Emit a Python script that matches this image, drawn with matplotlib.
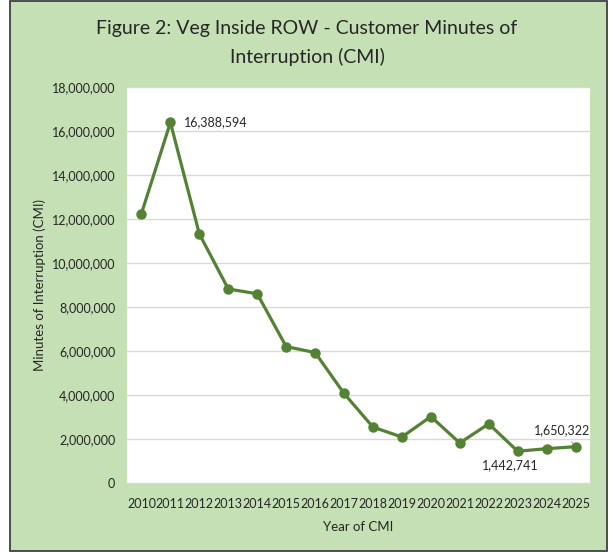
import matplotlib
matplotlib.use("Agg")
import matplotlib.pyplot as plt
from matplotlib.patches import Rectangle
from matplotlib.ticker import FuncFormatter, MultipleLocator

years = [str(y) for y in range(2010, 2026)]
cmi = [12250000, 16388594, 11320000, 8820000, 8600000, 6200000, 5930000, 4070000,
       2540000, 2090000, 3020000, 1820000, 2690000, 1442741, 1560000, 1650322]

title = "Figure 2: Veg Inside ROW - Customer Minutes of\nInterruption (CMI)"
xlabel = "Year of CMI"
ylabel = "Minutes of Interruption (CMI)"

green_bg = "#C5E0B4"
line_col = "#548235"
text_col = "#262626"
font = ["Lato", "DejaVu Sans"]

W, H = 610, 552
fig = plt.figure(figsize=(W / 100, H / 100), dpi=100, facecolor="white")

# green frame
fig.patches.append(Rectangle((10 / W, 1 - 551 / H), 597 / W, 550 / H, transform=fig.transFigure,
                             facecolor=green_bg, edgecolor="#404040", linewidth=1.3, zorder=-5))

L, R, T, B = 127, 590, 87, 483
ax = fig.add_axes([L / W, 1 - B / H, (R - L) / W, (B - T) / H])
ax.set_zorder(2)
ax.set_facecolor("white")

x = list(range(len(years)))
ax.plot(x, cmi, color=line_col, linewidth=2.3, marker="o", markersize=6.5, zorder=3)

ax.set_xlim(-0.5, len(years) - 0.5)
ax.set_ylim(0, 18000000)
ax.yaxis.set_major_locator(MultipleLocator(2000000))
ax.yaxis.set_major_formatter(FuncFormatter(lambda v, p: f"{int(v):,}"))
ax.set_xticks(x)
ax.set_xticklabels(years)
ax.grid(axis="y", color="#D9D9D9", linewidth=1)
ax.set_axisbelow(True)
for s in ["top", "right", "left"]:
    ax.spines[s].set_visible(False)
ax.spines["bottom"].set_color("#D9D9D9")
ax.tick_params(axis="both", length=0, labelsize=9, labelcolor=text_col)
ax.tick_params(axis="x", pad=11)
ax.tick_params(axis="y", pad=8.5)
for lab in ax.get_xticklabels() + ax.get_yticklabels():
    lab.set_family(font)

ax.set_xlabel(xlabel, fontsize=9.5, color=text_col, family=font, labelpad=8)
ax.set_ylabel(ylabel, fontsize=9.5, color=text_col, family=font, labelpad=4)

fig.text(307 / W, 1 - 43 / H, title, ha="center", va="center", fontsize=14,
         color=text_col, family=font, linespacing=1.75)

# data labels
ax.annotate(f"{cmi[1]:,}", (x[1], cmi[1]), xytext=(10, 0), textcoords="offset points",
            ha="left", va="center", fontsize=9, color=text_col, family=font)
ax.annotate(f"{cmi[13]:,}", (x[13], cmi[13]), xytext=(-5, -10), textcoords="offset points",
            ha="center", va="center", fontsize=9, color=text_col, family=font)
ax.annotate(f"{cmi[15]:,}", (x[15], cmi[15]), xytext=(-10, 12), textcoords="offset points",
            ha="center", va="center", fontsize=9, color=text_col, family=font,
            arrowprops=dict(arrowstyle="-", color="#A6A6A6", lw=0.8, shrinkA=3, shrinkB=3))

fig.savefig("out.png", dpi=100, facecolor="white")
